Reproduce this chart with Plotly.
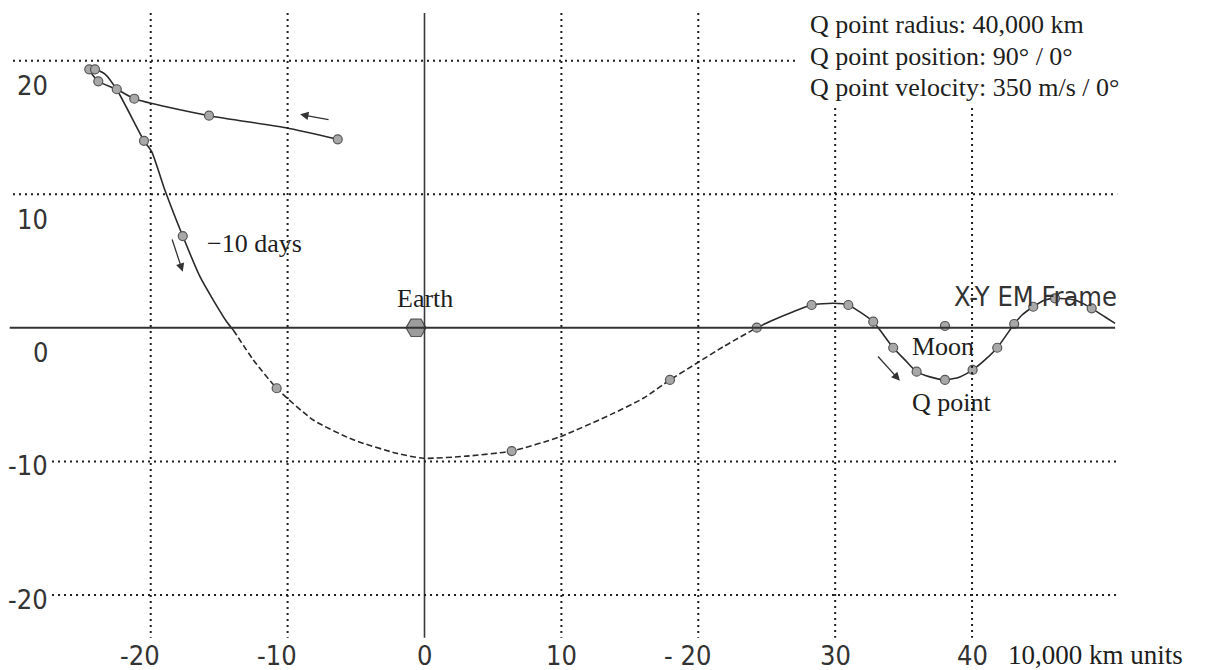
import plotly.graph_objects as go

# ---------------- data (10,000 km units, X-Y Earth-Moon frame) ----------------
# trajectory: solid leg from the start through the loop, down to y=0
leg1_x = [-6.34, -10.12, -15.74, -21.2, -22.48, -23.83, -24.49, -24.07, -23.34, -22.46,
          -20.49, -19.93, -18.96, -17.66, -16.4, -15.43, -14.45, -13.97]
leg1_y = [14.11, 14.98, 15.88, 17.15, 17.86, 18.45, 19.35, 19.35, 19.0, 17.8,
          14.0, 13.19, 10.3, 6.87, 3.83, 2.08, 0.46, -0.16]
# dashed-looking leg under the Earth
leg2_x = [-13.97, -12.5, -10.8, -8.12, -5.2, -2.03, -0.09, 3.08, 6.37, 9.9, 13.79,
          15.98, 17.93, 19.88, 21.83, 24.27]
leg2_y = [-0.16, -2.4, -4.52, -6.9, -8.38, -9.39, -9.76, -9.6, -9.22, -8.15, -6.4,
          -5.27, -3.9, -2.65, -1.41, 0.01]
# solid leg weaving around the Moon
leg3_x = [24.27, 25.48, 26.94, 28.28, 29.86, 30.96, 31.8, 32.78, 33.27, 34.24, 35.1,
          35.95, 36.92, 38.02, 39.11, 40.04, 40.94, 41.84, 43.08, 43.65, 44.47, 45.33,
          46.06, 47.52, 48.74, 49.72, 50.45]
leg3_y = [0.01, 0.59, 1.21, 1.71, 1.84, 1.71, 1.19, 0.46, -0.16, -1.49, -2.4,
          -3.28, -3.67, -3.9, -3.67, -3.15, -2.4, -1.49, 0.29, 0.96, 1.58, 2.08,
          2.21, 2.08, 1.46, 0.81, 0.34]
# daily position markers
pts_x = [-6.34, -15.74, -21.2, -22.48, -23.83, -24.49, -24.07, -20.49, -17.66, -10.8,
         6.37, 17.93, 24.27, 28.28, 30.96, 32.78, 34.24, 35.95, 38.02, 40.04, 41.84,
         43.08, 44.47, 46.06, 48.74]
pts_y = [14.11, 15.88, 17.15, 17.86, 18.45, 19.35, 19.35, 14.0, 6.87, -4.52,
         -9.22, -3.9, 0.01, 1.71, 1.71, 0.46, -1.49, -3.28, -3.9, -3.15, -1.49,
         0.29, 1.58, 2.21, 1.46]
earth_xy = (-0.62, 0.0)
moon_xy = (38.02, 0.14)

# direction arrows: (tail_x, tail_y, head_x, head_y)
arrows = [(-6.9, 15.56, -9.09, 15.98),
          (-18.47, 6.73, -17.66, 4.2),
          (33.03, -2.03, 34.73, -3.96)]

x_ticks = [-20, -10, 0, 10, 20, 30, 40]
x_tick_text = ["-20", "-10", "0", "10", "- 20", "30", "40"]
y_ticks = [20, 10, 0, -10, -20]
y_tick_text = ["20", "10", "0", "-10", "-20"]

info_lines = ["Q point radius: 40,000 km",
              "Q point position: 90\u00b0 / 0\u00b0",
              "Q point velocity: 350 m/s / 0\u00b0"]

# ---------------- layout constants ----------------
X_RANGE = [-31.01, 57.82]
Y_RANGE = [-25.61, 24.54]
SERIF = "Liberation Serif, Times New Roman, serif"
PLOTTER = "Liberation Sans Narrow, DejaVu Sans Condensed, DejaVu Sans Mono, monospace"
INK = "#1e1e1e"

fig = go.Figure()

shapes = []
# vertical grid lines
for xv in x_ticks:
    top = 16.45 if xv >= 30 else 23.57
    if xv == 0:
        shapes.append(dict(type="line", xref="x", yref="y", x0=xv, x1=xv, y0=top, y1=-23.2,
                           line=dict(color="#3a3a3a", width=1.6)))
    else:
        shapes.append(dict(type="line", xref="x", yref="y", x0=xv, x1=xv, y0=top, y1=-23.2,
                           line=dict(color=INK, width=2, dash="2px,4px")))
# horizontal grid lines
for yv in y_ticks:
    left = -30.06 if yv >= 0 else -27.21
    right = 27.28 if yv == 20 else 50.6
    if yv == 0:
        shapes.append(dict(type="line", xref="x", yref="y", x0=-30.3, x1=50.45, y0=yv, y1=yv,
                           line=dict(color="#333333", width=2)))
    else:
        shapes.append(dict(type="line", xref="x", yref="y", x0=left, x1=right, y0=yv, y1=yv,
                           line=dict(color=INK, width=2, dash="2px,4px")))

line_style = dict(color="#2a2a2a", width=1.6)
fig.add_trace(go.Scatter(x=leg1_x, y=leg1_y, mode="lines", line=dict(**line_style, shape="spline", smoothing=0.6),
                         hoverinfo="skip", showlegend=False))
fig.add_trace(go.Scatter(x=leg2_x, y=leg2_y, mode="lines",
                         line=dict(color="#2a2a2a", width=1.6, dash="6px,3px", shape="spline", smoothing=0.6),
                         hoverinfo="skip", showlegend=False))
fig.add_trace(go.Scatter(x=leg3_x, y=leg3_y, mode="lines", line=dict(**line_style, shape="spline", smoothing=0.6),
                         hoverinfo="skip", showlegend=False))
fig.add_trace(go.Scatter(x=pts_x + [moon_xy[0]], y=pts_y + [moon_xy[1]], mode="markers",
                         marker=dict(size=9, color="#a8a8a8", line=dict(color="#555555", width=1.2)),
                         hoverinfo="skip", showlegend=False))
fig.add_trace(go.Scatter(x=[earth_xy[0]], y=[earth_xy[1]], mode="markers",
                         marker=dict(symbol="hexagon2", size=20, color="#9c9c9c",
                                     line=dict(color="#555555", width=1.2)),
                         hoverinfo="skip", showlegend=False))

ann = []
# axis tick labels
for xv, t in zip(x_ticks, x_tick_text):
    ann.append(dict(x=xv, y=-24.49, xref="x", yref="y", text=t, showarrow=False,
                    xanchor="center", yanchor="middle", xshift=-11 if t.startswith("-") else 0,
                    font=dict(family=PLOTTER, size=27, color="#333333")))
for yv, t in zip(y_ticks, y_tick_text):
    ann.append(dict(x=-27.36, y=yv, xref="x", yref="y", text=t, showarrow=False,
                    xanchor="right", yanchor="middle", yshift=-25 if yv >= 0 else -4,
                    font=dict(family=PLOTTER, size=27, color="#333333")))
ann.append(dict(x=1006 / 1216, y=1 - 655 / 670, xref="paper", yref="paper", text="10,000 km units",
                showarrow=False, xanchor="left", yanchor="middle",
                font=dict(family=SERIF, size=27, color=INK)))

# info text block
for i, line in enumerate(info_lines):
    ann.append(dict(x=28.0, y=22.67 - 2.35 * i, xref="x", yref="y", text=line, showarrow=False,
                    xanchor="left", yanchor="middle", font=dict(family=SERIF, size=26, color=INK)))

# labels
labels = [("Earth", 0.04, 2.23, "center"),
          ("\u221210 days", -16.03, 6.35, "left"),
          ("Moon", 35.46, -1.4, "left"),
          ("Q point", 35.46, -5.62, "left")]
for t, x, y, anc in labels:
    ann.append(dict(x=x, y=y, xref="x", yref="y", text=t, showarrow=False, xanchor=anc,
                    yanchor="middle", font=dict(family=SERIF, size=26, color=INK)))
ann.append(dict(x=38.53, y=2.31, xref="x", yref="y", text="X-Y EM Frame", showarrow=False,
                xanchor="left", yanchor="middle", font=dict(family=PLOTTER, size=27, color="#333333")))

# arrows
for tx, ty, hx, hy in arrows:
    ann.append(dict(x=hx, y=hy, ax=tx, ay=ty, xref="x", yref="y", axref="x", ayref="y",
                    text="", showarrow=True, arrowhead=2, arrowsize=1.3, arrowwidth=1.3,
                    arrowcolor="#333333"))

fig.update_layout(
    width=1216, height=670,
    margin=dict(l=0, r=0, t=0, b=0),
    paper_bgcolor="white", plot_bgcolor="white",
    xaxis=dict(range=X_RANGE, visible=False, fixedrange=True),
    yaxis=dict(range=Y_RANGE, visible=False, fixedrange=True),
    shapes=shapes, annotations=ann, showlegend=False,
)

fig.write_html("out.html")
